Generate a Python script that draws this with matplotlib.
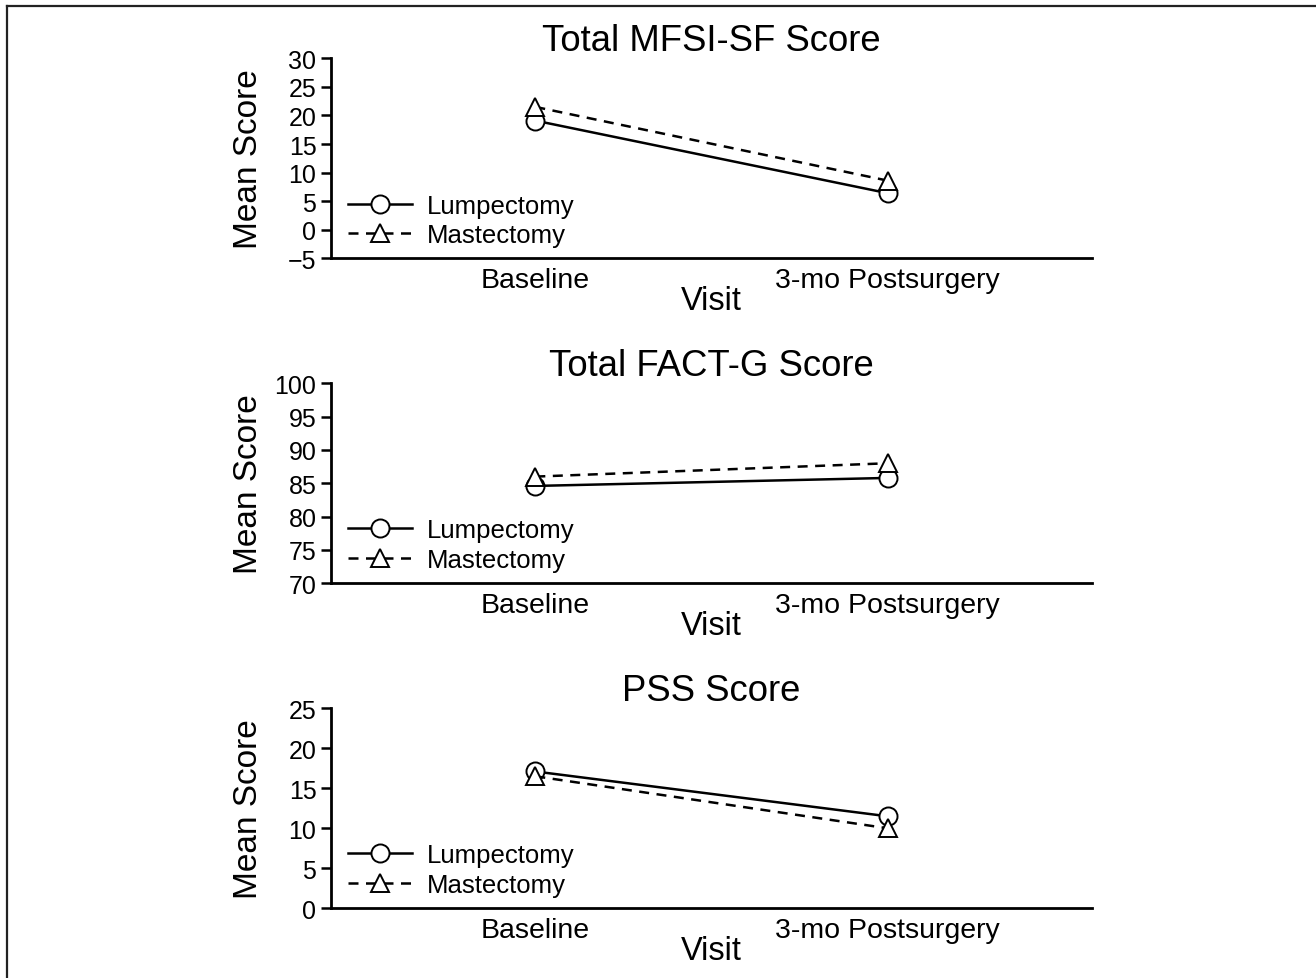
import matplotlib.pyplot as plt
from matplotlib.lines import Line2D

plt.rcParams['font.family'] = ['Liberation Sans', 'DejaVu Sans']

visits = ['Baseline', '3-mo Postsurgery']
groups = ['Lumpectomy', 'Mastectomy']

mfsi_lump = [19.1, 6.4]
mfsi_mast = [21.5, 8.6]
factg_lump = [84.6, 85.8]
factg_mast = [86.0, 88.0]
pss_lump = [17.1, 11.5]
pss_mast = [16.5, 10.0]

titles = ['Total MFSI-SF Score', 'Total FACT-G Score', 'PSS Score']
ylims = [(-5, 30), (70, 100), (0, 25)]

panels = [(mfsi_lump, mfsi_mast), (factg_lump, factg_mast), (pss_lump, pss_mast)]

fig = plt.figure(figsize=(13.16, 9.79), dpi=100)

# frame line on the left and top of the picture
fig.add_artist(Line2D([7/1316, 7/1316], [0, 1 - 7/979], transform=fig.transFigure,
                      color='#222222', lw=1.6))
fig.add_artist(Line2D([7/1316, 1], [1 - 7/979, 1 - 7/979], transform=fig.transFigure,
                      color='#222222', lw=1.6))

bottoms = [0.7351, 0.4032, 0.0712]
x = list(range(len(visits)))

for i, (lump, mast) in enumerate(panels):
    ax = fig.add_axes([0.2515, bottoms[i], 0.5783, 0.2043])
    ax.plot(x, lump, color='black', lw=1.8, marker='o', ms=13,
            mfc='white', mec='black', mew=1.4, label=groups[0])
    ax.plot(x, mast, color='black', lw=1.8, ls=(0, (4, 3)), marker='^', ms=13.5,
            mfc='white', mec='black', mew=1.4, label=groups[1])
    ax.set_xlim(-0.58, 1.58)
    lo, hi = ylims[i]
    ax.set_ylim(lo, hi)
    ax.set_yticks(range(lo, hi + 1, 5))
    ax.set_xticks(x)
    ax.set_xticklabels(visits, fontsize=20.5)
    ax.tick_params(axis='x', length=0, pad=6)
    ax.tick_params(axis='y', length=7, width=1.8, pad=3.5, labelsize=18)
    for s in ['top', 'right']:
        ax.spines[s].set_visible(False)
    for s in ['left', 'bottom']:
        ax.spines[s].set_linewidth(2)
    ax.set_title(titles[i], fontsize=26.3, pad=2)
    ax.set_xlabel('Visit', fontsize=23.5)
    ax.xaxis.label.set_va('center')
    ax.xaxis.set_label_coords(0.5, -0.211)
    ax.set_ylabel('Mean Score', fontsize=24)
    ax.yaxis.label.set_va('center')
    ax.yaxis.set_label_coords(-0.1078, 0.5)
    ax.legend(loc='center left', bbox_to_anchor=(0.0227, 0.19), frameon=False,
              fontsize=18.5, handlelength=2.5, handletextpad=0.55, labelspacing=0.22,
              borderpad=0, borderaxespad=0, numpoints=1)

fig.savefig('out.png', dpi=100)
